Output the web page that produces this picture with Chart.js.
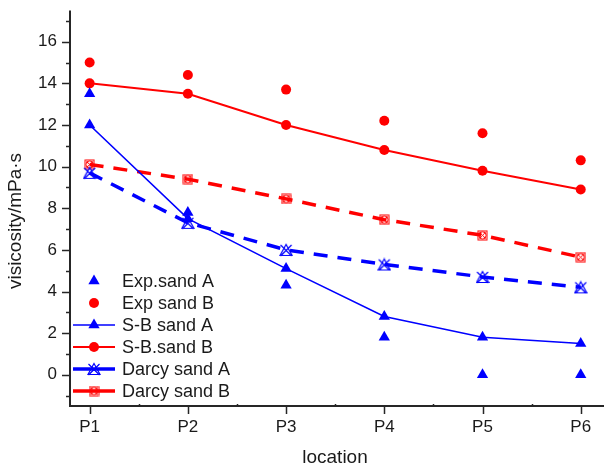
<!DOCTYPE html>
<html>
<head>
<meta charset="utf-8">
<script src="https://cdn.jsdelivr.net/npm/chart.js@4.4.1/dist/chart.umd.min.js"></script>
<style>
  html, body { margin: 0; padding: 0; background: #fff; }
  canvas { display: block; }
</style>
</head>
<body>
<canvas id="viscChart" width="604" height="470"></canvas>
<script>
// measured / computed viscosity along the column
const locations = ['P1', 'P2', 'P3', 'P4', 'P5', 'P6'];
const expSandA = [13.5, 7.8, 4.3, 1.8, 0, 0];
const expSandB = [15.0, 14.4, 13.7, 12.2, 11.6, 10.3];
const sbSandA = [12.0, 7.5, 5.1, 2.8, 1.8, 1.5];
const sbSandB = [14.0, 13.5, 12.0, 10.8, 9.8, 8.9];
const darcySandA = [9.7, 7.3, 6.0, 5.3, 4.7, 4.2];
const darcySandB = [10.1, 9.4, 8.45, 7.45, 6.7, 5.65];
const yTickValues = [-1, 0, 1, 2, 3, 4, 5, 6, 7, 8, 9, 10, 11, 12, 13, 14, 15, 16, 17];

const BLUE = '#0000ff';
const RED = '#ff0000';
const FONT = '"Liberation Sans", Arial, sans-serif';

const toPoints = (arr)=> arr.map((v, i)=> ({ x: i + 1, y: v }));

// hollow triangle with a cross through it
const makeDarcyA = ()=>{
  const c = document.createElement('canvas');
  c.width = 14; c.height = 14;
  const g = c.getContext('2d');
  g.strokeStyle = BLUE; g.lineWidth = 1.2;
  g.beginPath();
  g.moveTo(7, 1.5); g.lineTo(13, 12.5); g.lineTo(1, 12.5); g.closePath();
  g.stroke();
  g.beginPath();
  g.moveTo(1.5, 2); g.lineTo(12.5, 13);
  g.moveTo(12.5, 2); g.lineTo(1.5, 13);
  g.stroke();
  return c;
};

// square with circle and cross
const makeDarcyB = ()=>{
  const c = document.createElement('canvas');
  c.width = 11; c.height = 11;
  const g = c.getContext('2d');
  g.strokeStyle = RED; g.lineWidth = 1;
  g.strokeRect(1, 1, 9, 9);
  g.beginPath(); g.arc(5.5, 5.5, 3.6, 0, Math.PI * 2); g.stroke();
  g.beginPath();
  g.moveTo(2.5, 2.5); g.lineTo(8.5, 8.5);
  g.moveTo(8.5, 2.5); g.lineTo(2.5, 8.5);
  g.stroke();
  return c;
};

const darcyAMarker = makeDarcyA();
const darcyBMarker = makeDarcyB();

const datasets = [
  {
    label: 'Exp.sand A', data: toPoints(expSandA), showLine: false,
    pointStyle: 'triangle', pointRadius: 6.5, pointBackgroundColor: BLUE, pointBorderColor: BLUE, pointBorderWidth: 0,
    borderColor: BLUE, backgroundColor: BLUE
  },
  {
    label: 'Exp sand B', data: toPoints(expSandB), showLine: false,
    pointStyle: 'circle', pointRadius: 5, pointBackgroundColor: RED, pointBorderColor: RED, pointBorderWidth: 0,
    borderColor: RED, backgroundColor: RED
  },
  {
    label: 'S-B sand A', data: toPoints(sbSandA), showLine: true, borderWidth: 1.6,
    pointStyle: 'triangle', pointRadius: 6.5, pointBackgroundColor: BLUE, pointBorderColor: BLUE, pointBorderWidth: 0,
    borderColor: BLUE, backgroundColor: BLUE
  },
  {
    label: 'S-B.sand B', data: toPoints(sbSandB), showLine: true, borderWidth: 2,
    pointStyle: 'circle', pointRadius: 5, pointBackgroundColor: RED, pointBorderColor: RED, pointBorderWidth: 0,
    borderColor: RED, backgroundColor: RED
  },
  {
    label: 'Darcy sand A', data: toPoints(darcySandA), showLine: true, borderWidth: 3.5, borderDash: [14, 10],
    pointStyle: darcyAMarker, pointRadius: 7,
    borderColor: BLUE, backgroundColor: BLUE
  },
  {
    label: 'Darcy sand B', data: toPoints(darcySandB), showLine: true, borderWidth: 3.5, borderDash: [14, 10],
    pointStyle: darcyBMarker, pointRadius: 6,
    borderColor: RED, backgroundColor: RED
  }
];

// axis lines, major/minor ticks and axis titles
const axesPlugin = {
  id: 'axesFrame',
  afterDatasetsDraw(chart){
    const ctx = chart.ctx;
    const area = chart.chartArea;
    const xs = chart.scales.x, ys = chart.scales.y;
    ctx.save();
    ctx.strokeStyle = '#262626';
    ctx.lineWidth = 2;
    ctx.beginPath();
    ctx.moveTo(area.left, area.top);
    ctx.lineTo(area.left, area.bottom + 1);
    ctx.moveTo(area.left - 1, area.bottom);
    ctx.lineTo(chart.width, area.bottom);
    ctx.stroke();

    ctx.lineWidth = 1.5;
    ctx.beginPath();
    yTickValues.forEach(v=>{
      const py = Math.round(ys.getPixelForValue(v)) + 0.5;
      const len = (v % 2 === 0) ? 8 : 4;
      ctx.moveTo(area.left - len, py);
      ctx.lineTo(area.left, py);
    });
    locations.forEach((_, i)=>{
      const px = Math.round(xs.getPixelForValue(i + 1)) + 0.5;
      ctx.moveTo(px, area.bottom);
      ctx.lineTo(px, area.bottom + 8);
      const mx = Math.round(xs.getPixelForValue(i + 1.5)) + 0.5;
      if(mx < chart.width){
        ctx.moveTo(mx, area.bottom - 2);
        ctx.lineTo(mx, area.bottom + 1);
      }
    });
    ctx.stroke();

    ctx.fillStyle = '#1a1a1a';
    ctx.font = `19px ${FONT}`;
    ctx.textAlign = 'center';
    ctx.textBaseline = 'middle';
    ctx.fillText('location', 335, 458);
    ctx.translate(16, 221);
    ctx.rotate(-Math.PI / 2);
    ctx.fillText('visicosity/mPa·s', 0, 0);
    ctx.restore();
  }
};

// legend inside the plot: line sample + marker + label
const legendPlugin = {
  id: 'insideLegend',
  afterDatasetsDraw(chart){
    const ctx = chart.ctx;
    const x0 = 73, x1 = 115, xm = 94, xt = 122;
    const rowY = [281, 303, 325, 347, 369, 391];
    ctx.save();
    chart.data.datasets.forEach((ds, i)=>{
      const y = rowY[i];
      if(ds.showLine){
        ctx.strokeStyle = ds.borderColor;
        ctx.lineWidth = ds.borderWidth;
        ctx.setLineDash([]);
        ctx.beginPath();
        ctx.moveTo(x0, y); ctx.lineTo(x1, y);
        ctx.stroke();
      }
      ctx.fillStyle = ds.pointBackgroundColor || ds.backgroundColor;
      ctx.strokeStyle = ds.pointBorderColor || ds.borderColor;
      Chart.helpers.drawPoint(ctx, {
        pointStyle: ds.pointStyle, rotation: 0,
        radius: ds.pointRadius, borderWidth: 0
      }, xm, y);
      ctx.fillStyle = '#1a1a1a';
      ctx.font = `18px ${FONT}`;
      ctx.textAlign = 'left';
      ctx.textBaseline = 'middle';
      ctx.fillText(ds.label, xt, y + 1);
    });
    ctx.restore();
  }
};

new Chart(document.getElementById('viscChart'), {
  type: 'scatter',
  data: { datasets },
  options: {
    responsive: false,
    animation: false,
    devicePixelRatio: 1,
    layout: { padding: { top: 8, right: 0, bottom: 0, left: 0 } },
    plugins: { legend: { display: false }, tooltip: { enabled: false } },
    scales: {
      x: {
        type: 'linear', min: 0.8, max: 6.13,
        afterBuildTicks: (s)=>{ s.ticks = locations.map((_, i)=> ({ value: i + 1 })); },
        afterFit: (s)=>{ s.height = 64; s.paddingLeft = 0; s.paddingRight = 0; },
        grid: { display: false, drawTicks: false },
        border: { display: false },
        ticks: {
          autoSkip: false, maxRotation: 0, padding: 11, color: '#1a1a1a',
          font: { family: FONT, size: 17 },
          callback: (v)=> locations[v - 1] || ''
        }
      },
      y: {
        type: 'linear', min: -1.5, max: 17.5,
        afterBuildTicks: (s)=>{ s.ticks = yTickValues.map(v=> ({ value: v })); },
        afterFit: (s)=>{ s.width = 70; s.paddingTop = 0; s.paddingBottom = 0; },
        grid: { display: false, drawTicks: false },
        border: { display: false },
        ticks: {
          autoSkip: false, padding: 13, color: '#1a1a1a',
          font: { family: FONT, size: 17 },
          callback: (v)=> (v >= 0 && v % 2 === 0) ? String(v) : ''
        }
      }
    }
  },
  plugins: [axesPlugin, legendPlugin]
});
</script>
</body>
</html>
